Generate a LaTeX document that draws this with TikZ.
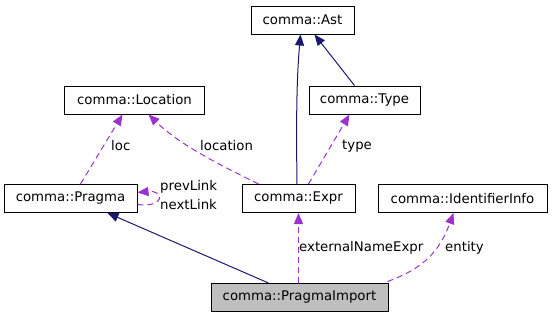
\documentclass[tikz,border=0pt]{standalone}
\usepackage{fontspec}
\setmainfont{DejaVu Sans}
\usetikzlibrary{arrows.meta}
\definecolor{navyc}{RGB}{25,25,112}
\definecolor{orchidc}{RGB}{154,50,205}
\definecolor{grayc}{RGB}{191,191,191}
\begin{document}
\begin{tikzpicture}[x=1pt,y=-1pt,
  cls/.style={draw=black,line width=1pt,fill=white,minimum height=28pt,inner sep=0pt,font=\fontsize{13.3}{16}\selectfont},
  inh/.style={draw=navyc,line width=1pt,-{Triangle[length=11pt,width=9pt]}},
  usel/.style={draw=orchidc,line width=1pt,dash pattern=on 6pt off 4pt,-{Triangle[length=11pt,width=9pt]}},
  lbl/.style={anchor=west,inner sep=0pt,font=\fontsize{13.3}{16}\selectfont}]
\useasboundingbox (0,0) rectangle (552,317);
\node[cls,minimum width=103pt] (ast) at (302.5,20) {comma::Ast};
\node[cls,minimum width=140pt] (loc) at (134.5,100) {comma::Location};
\node[cls,minimum width=111pt] (type) at (364.5,100) {comma::Type};
\node[cls,minimum width=133pt] (pragma) at (70.5,198.5) {comma::Pragma};
\node[cls,minimum width=113pt] (expr) at (298.5,198.5) {comma::Expr};
\node[cls,minimum width=169pt] (ident) at (462.5,198.5) {comma::IdentifierInfo};
\node[cls,minimum width=177pt,fill=grayc] (imp) at (299.5,297.5) {comma::PragmaImport};
% inheritance
\draw[inh] ([xshift=-1.5pt]expr.north) .. controls (296,110) and (297,75) .. ([xshift=-2pt]ast.south);
\draw[inh] ([xshift=-10pt]type.north) -- ([xshift=12pt]ast.south);
\draw[inh] ([xshift=-31pt]imp.north) -- ([xshift=37pt]pragma.south);
% usage
\draw[usel] ([xshift=10pt]pragma.north) -- ([xshift=-12pt]loc.south);
\draw[usel] ([xshift=-40pt]expr.north) .. controls (220,165) and (180,145) .. ([xshift=14pt]loc.south);
\draw[usel] ([xshift=10pt]expr.north) -- ([xshift=-15pt]type.south);
\draw[usel] ([xshift=-1pt]imp.north) -- (expr.south);
\draw[usel] ([xshift=-1pt,yshift=1.5pt]imp.north east) .. controls (425,268) and (440,250) .. ([xshift=-9pt]ident.south);
\draw[usel] ([yshift=-6pt]pragma.east) .. controls (165,208) and (165,190) .. ([yshift=6pt]pragma.east);
% labels
\node[lbl] (lloc) at (111,146) {loc};
\node[lbl] (llocation) at (200,146) {location};
\node[lbl] (ltype) at (342,146) {type};
\node[lbl] (lprev) at (160,187) {prevLink};
\node[lbl] (lnext) at (160,205) {nextLink};
\node[lbl] (lext) at (299,248) {externalNameExpr};
\node[lbl] (lent) at (445,248) {entity};
\end{tikzpicture}
\end{document}
